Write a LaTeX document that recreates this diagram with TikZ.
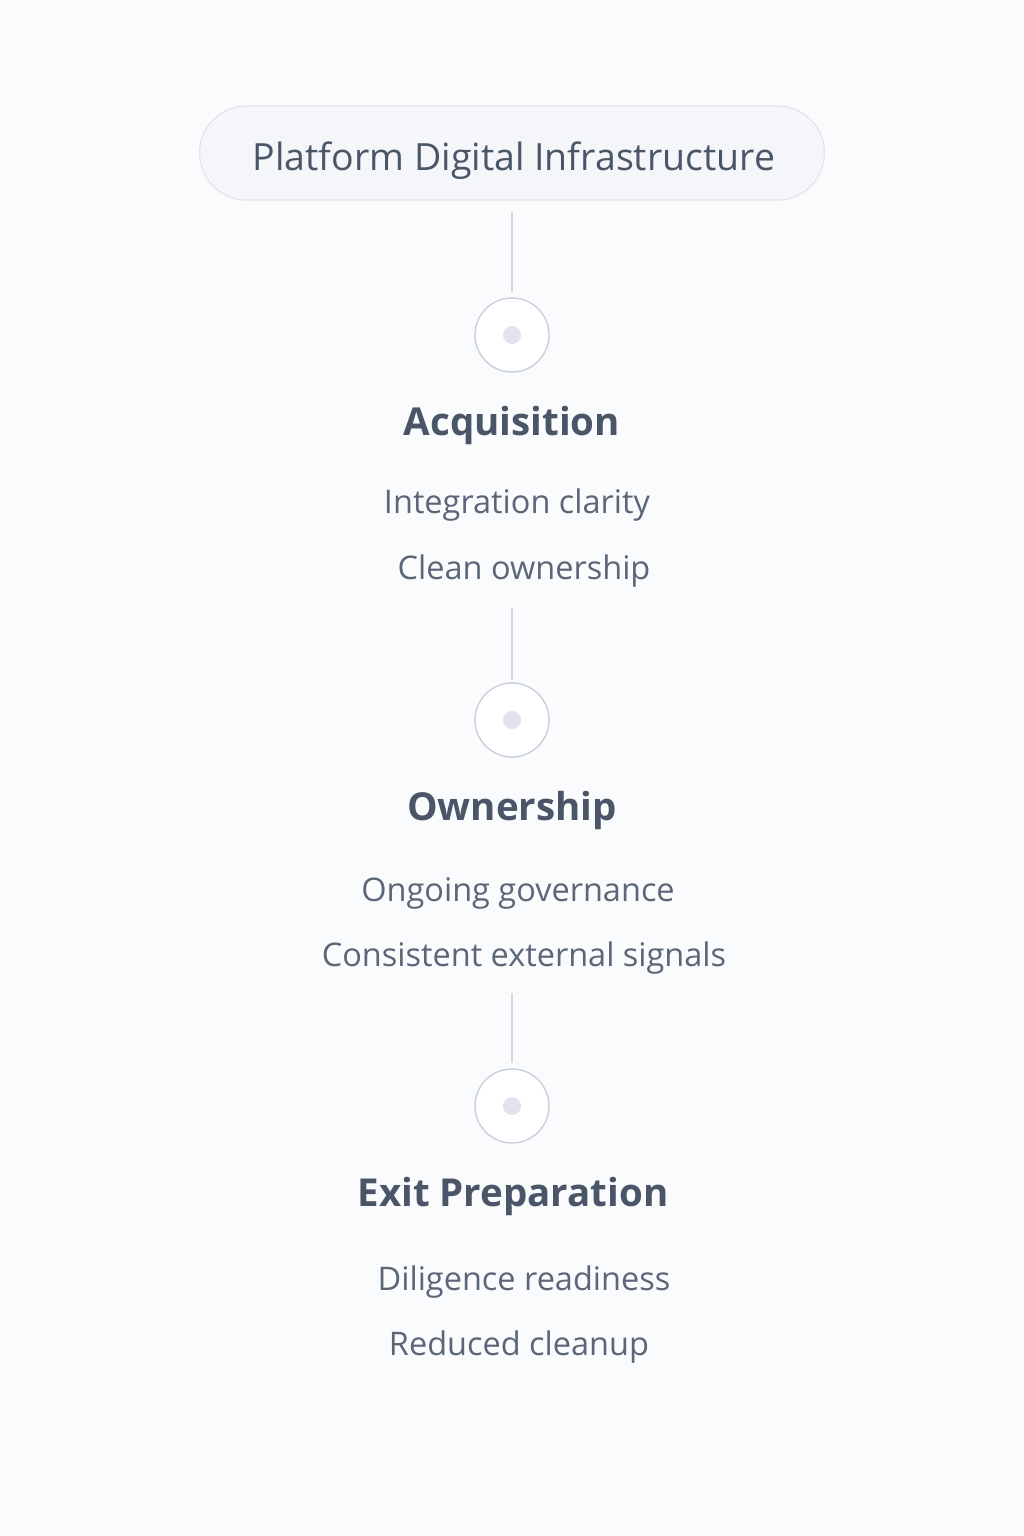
\documentclass[tikz,border=0pt]{standalone}
\usepackage{fontspec}
\setmainfont{Open Sans}
\definecolor{bgc}{HTML}{FAFBFC}
\definecolor{pillfill}{HTML}{F5F6F9}
\definecolor{pillline}{HTML}{E1E4EA}
\definecolor{conn}{HTML}{D3D8E0}
\definecolor{ring}{HTML}{C9D0DB}
\definecolor{dotc}{HTML}{E1E4EC}
\definecolor{headc}{HTML}{4A5668}
\definecolor{subc}{HTML}{5B6779}
\begin{document}
\begin{tikzpicture}[x=1pt,y=-1pt,
  pill/.style={draw=pillline,line width=1.2pt,fill=pillfill,rounded corners=47pt,minimum width=625pt,minimum height=94pt,inner sep=0pt},
  pilltext/.style={font=\fontsize{37.5}{42}\selectfont,text=headc,inner sep=0pt},
  ringnode/.style={circle,draw=ring,line width=1.4pt,fill=white,minimum size=74pt,inner sep=0pt},
  dotnode/.style={circle,fill=dotc,minimum size=18pt,inner sep=0pt},
  head/.style={font=\fontsize{38.5}{44}\selectfont\bfseries,text=headc,inner sep=0pt},
  sub/.style={font=\fontsize{32.5}{38}\selectfont,text=subc,inner sep=0pt},
  link/.style={draw=conn,line width=1.3pt}]
\useasboundingbox[fill=bgc] (0,0) rectangle (1024,1536);
\node[pill] (top) at (512,153) {};
\node[pilltext] (toptext) at (514,161) {Platform Digital Infrastructure};
\node[ringnode] (r1) at (512,335) {};
\node[dotnode] (d1) at (512,335) {};
\node[head] (h1) at (512,425) {Acquisition};
\node[sub] (s1a) at (517,505) {Integration clarity};
\node[sub] (s1b) at (524,571) {Clean ownership};
\node[ringnode] (r2) at (512,720) {};
\node[dotnode] (d2) at (512,720) {};
\node[head] (h2) at (512,810) {Ownership};
\node[sub] (s2a) at (518,893) {Ongoing governance};
\node[sub] (s2b) at (524,958) {Consistent external signals};
\node[ringnode] (r3) at (512,1106) {};
\node[dotnode] (d3) at (512,1106) {};
\node[head] (h3) at (513,1196) {Exit Preparation};
\node[sub] (s3a) at (524,1282) {Diligence readiness};
\node[sub] (s3b) at (519,1347) {Reduced cleanup};
\coordinate (c1a) at (512,212);
\coordinate (c1b) at (512,292);
\coordinate (c2a) at (512,608);
\coordinate (c2b) at (512,680);
\coordinate (c3a) at (512,993);
\coordinate (c3b) at (512,1063);
\draw[link] (c1a) -- (c1b);
\draw[link] (c2a) -- (c2b);
\draw[link] (c3a) -- (c3b);
\end{tikzpicture}
\end{document}
